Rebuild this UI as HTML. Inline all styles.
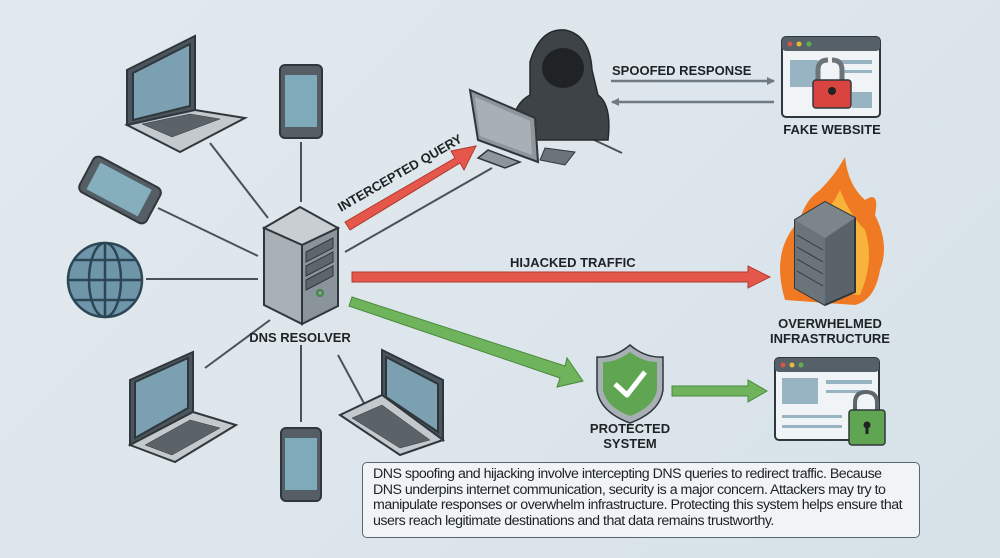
<!DOCTYPE html>
<html><head><meta charset="utf-8"><style>
html,body{margin:0;padding:0;width:1000px;height:558px;overflow:hidden}
body{background:linear-gradient(135deg,#e2e9ee 0%,#dde6ec 50%,#d6e1e8 100%);font-family:"Liberation Sans",sans-serif}
svg text{font-family:"Liberation Sans",sans-serif;font-weight:bold;fill:#1f2326}
.box{position:absolute;left:362px;top:462px;width:558px;height:76px;border:1.5px solid #5b6670;border-radius:5px;background:#f1f4f6;box-sizing:border-box;padding:4px 4px 0 10px;font-size:14.2px;line-height:15.5px;color:#1d2226;letter-spacing:-0.5px;white-space:nowrap}
</style></head><body>
<svg width="1000" height="558" style="position:absolute;left:0;top:0">
<defs>
<marker id="ag" markerWidth="8" markerHeight="8" refX="7" refY="4" orient="auto" markerUnits="userSpaceOnUse"><path d="M0,0 L8,4 L0,8 z" fill="#707a82"/></marker>
</defs>
<g stroke="#4a5157" stroke-width="2" fill="none">
<line x1="210" y1="143" x2="268" y2="218"/>
<line x1="301" y1="142" x2="301" y2="202"/>
<line x1="158" y1="208" x2="258" y2="256"/>
<line x1="146" y1="279" x2="258" y2="279"/>
<line x1="270" y1="320" x2="205" y2="368"/>
<line x1="301" y1="345" x2="301" y2="422"/>
<line x1="338" y1="355" x2="373" y2="420"/>
<line x1="345" y1="252" x2="492" y2="168"/>
<line x1="590" y1="138" x2="622" y2="153"/>
</g>
<g stroke="#30373c" stroke-width="2">
<polygon points="127,70 195,36 195,110 127,125" fill="#4a555d"/>
<polygon points="133,73 190,44 190,106 133,120" fill="#7aa0b1"/>
<polygon points="127,125 195,110 245,118 180,152" fill="#c4c9cd"/>
<polygon points="142,124 190,114 220,119 172,137" fill="#5b6369" stroke-width="0.5"/>
</g>
<rect x="280" y="65" width="42" height="73" rx="5" fill="#555e64" stroke="#30373c" stroke-width="2"/>
<rect x="285" y="75" width="32" height="52" fill="#7eaab9"/>
<g transform="rotate(28 120 190)"><rect x="82" y="170" width="76" height="40" rx="6" fill="#555e64" stroke="#30373c" stroke-width="2"/><rect x="90" y="175" width="58" height="30" fill="#86afbd"/></g>
<g stroke="#2c4656" stroke-width="2.5" fill="none">
<circle cx="105" cy="280" r="37" fill="#6f95a8"/>
<ellipse cx="105" cy="280" rx="16" ry="37"/>
<line x1="105" y1="243" x2="105" y2="317"/>
<line x1="68" y1="280" x2="142" y2="280"/>
<path d="M74,260 H136 M74,300 H136"/>
</g>
<g stroke="#30373c" stroke-width="2">
<polygon points="264,228 300,207 338,228 302,245" fill="#c9ced2"/>
<polygon points="264,228 302,245 302,324 264,305" fill="#a9b0b6"/>
<polygon points="302,245 338,228 338,306 302,324" fill="#8b949b"/>
<polygon points="306,252 333,238 333,248 306,262" fill="#5d666c" stroke-width="1"/>
<polygon points="306,266 333,252 333,262 306,276" fill="#5d666c" stroke-width="1"/>
<polygon points="306,280 333,266 333,276 306,290" fill="#5d666c" stroke-width="1"/>
<circle cx="320" cy="293" r="3" fill="none" stroke="#3c8a3c"/>
</g>
<text x="300" y="342" font-size="13" text-anchor="middle">DNS RESOLVER</text>
<g stroke="#30373c" stroke-width="2">
<polygon points="130,380 193,352 193,412 130,445" fill="#4a555d"/>
<polygon points="135,382 188,358 188,408 135,438" fill="#7aa0b1"/>
<polygon points="130,445 193,412 236,425 175,462" fill="#c4c9cd"/>
<polygon points="145,445 190,420 220,428 172,455" fill="#5b6369" stroke-width="0.5"/>
</g>
<rect x="281" y="428" width="40" height="73" rx="5" fill="#555e64" stroke="#30373c" stroke-width="2"/>
<rect x="285" y="438" width="32" height="52" fill="#7eaab9"/>
<g stroke="#30373c" stroke-width="2">
<polygon points="382,350 443,380 443,440 382,395" fill="#4a555d"/>
<polygon points="386,357 438,384 438,432 386,397" fill="#7aa0b1"/>
<polygon points="340,415 382,395 443,440 400,455" fill="#c4c9cd"/>
<polygon points="352,418 382,405 430,440 400,448" fill="#5b6369" stroke-width="0.5"/>
</g>
<polygon points="345,222 455,158 451,151 476,146 464,170 460,163 350,230" fill="#e5574a" stroke="#b03a30" stroke-width="1"/>
<text x="0" y="0" font-size="13" transform="translate(341,212) rotate(-30)">INTERCEPTED QUERY</text>
<path d="M530,62 Q540,28 565,30 Q590,35 592,70 L598,95 Q612,105 608,140 L512,140 Q510,105 530,95z" fill="#3e4347" stroke="#25292c" stroke-width="1.5"/>
<ellipse cx="563" cy="68" rx="21" ry="20" fill="#1f2326"/>
<polygon points="470,90 535,118 538,162 478,140" fill="#8e969c" stroke="#30373c" stroke-width="2"/>
<polygon points="475,97 530,121 532,155 480,136" fill="#a9b0b5"/>
<polygon points="488,150 520,162 505,168 478,158" fill="#8e969c" stroke="#30373c" stroke-width="1.5"/>
<polygon points="545,148 575,152 565,165 540,160" fill="#6c747a" stroke="#30373c" stroke-width="1"/>
<text x="612" y="75" font-size="13">SPOOFED RESPONSE</text>
<line x1="611" y1="81" x2="774" y2="81" stroke="#707a82" stroke-width="2.5" marker-end="url(#ag)"/>
<line x1="774" y1="102" x2="612" y2="102" stroke="#707a82" stroke-width="2.5" marker-end="url(#ag)"/>
<rect x="782" y="37" width="98" height="80" rx="4" fill="#f1f4f6" stroke="#30373c" stroke-width="2"/>
<rect x="782" y="37" width="98" height="14" rx="4" fill="#566068"/>
<circle cx="790" cy="44" r="2.5" fill="#d9534f"/><circle cx="799" cy="44" r="2.5" fill="#e6b93b"/><circle cx="809" cy="44" r="2.5" fill="#5fae4f"/>
<rect x="790" y="60" width="28" height="27" fill="#98b4c3"/>
<rect x="852" y="92" width="20" height="16" fill="#98b4c3"/>
<rect x="840" y="60" width="32" height="4" fill="#98b4c3"/><rect x="840" y="70" width="32" height="3" fill="#98b4c3"/>
<path d="M818,82 V70 Q818,60 828,60 M832,60 Q842,60 842,70 V82" stroke="#6d757b" stroke-width="5" fill="none"/>
<rect x="813" y="80" width="38" height="28" rx="3" fill="#d9443e" stroke="#30373c" stroke-width="1.5"/>
<circle cx="832" cy="91" r="4" fill="#222"/>
<text x="832" y="134" font-size="13" text-anchor="middle">FAKE WEBSITE</text>
<text x="510" y="267" font-size="13">HIJACKED TRAFFIC</text>
<polygon points="352,272 748,272 748,266 770,277 748,288 748,282 352,282" fill="#e5574a" stroke="#b03a30" stroke-width="1"/>
<path d="M785,300 Q770,250 800,220 Q805,200 820,190 Q835,175 845,157 Q848,185 865,200 Q880,190 875,215 Q890,245 880,270 Q875,300 855,305 z" fill="#f07a24"/>
<path d="M795,290 Q790,250 815,225 Q830,210 840,190 Q850,215 865,230 Q875,260 860,295 z" fill="#f7b33a"/>
<polygon points="795,220 825,202 855,218 855,292 825,305 795,288" fill="#5a6369" stroke="#30373c" stroke-width="2"/>
<polygon points="795,220 825,238 825,305 795,288" fill="#6b747a"/>
<polygon points="795,220 825,202 855,218 825,238" fill="#7c858b"/>
<g stroke="#30373c" stroke-width="1"><line x1="797" y1="235" x2="823" y2="250"/><line x1="797" y1="247" x2="823" y2="262"/><line x1="797" y1="259" x2="823" y2="274"/><line x1="797" y1="271" x2="823" y2="286"/></g>
<text x="830" y="328" font-size="13" text-anchor="middle">OVERWHELMED</text>
<text x="830" y="343" font-size="13" text-anchor="middle">INFRASTRUCTURE</text>
<polygon points="352,297 565,366 567,358 583,381 557,387 560,378 349,306" fill="#6fb35c" stroke="#4a8a3c" stroke-width="1"/>
<path d="M630,345 Q645,358 663,357 V390 Q660,412 630,423 Q600,412 597,390 V357 Q615,358 630,345z" fill="#a8b0b6" stroke="#30373c" stroke-width="1.5"/>
<path d="M630,352 Q643,362 657,362 V390 Q654,407 630,416 Q606,407 603,390 V362 Q617,362 630,352z" fill="#5fa552"/>
<path d="M615,384 L627,395 L645,372" stroke="#fff" stroke-width="5" fill="none" stroke-linejoin="round"/>
<text x="630" y="433" font-size="13" text-anchor="middle">PROTECTED</text>
<text x="630" y="448" font-size="13" text-anchor="middle">SYSTEM</text>
<polygon points="672,386 748,386 748,380 767,391 748,402 748,396 672,396" fill="#6fb35c" stroke="#4a8a3c" stroke-width="1"/>
<rect x="775" y="358" width="104" height="82" rx="4" fill="#f1f4f6" stroke="#30373c" stroke-width="2"/>
<rect x="775" y="358" width="104" height="14" rx="4" fill="#566068"/>
<circle cx="783" cy="365" r="2.5" fill="#d9534f"/><circle cx="792" cy="365" r="2.5" fill="#e6b93b"/><circle cx="801" cy="365" r="2.5" fill="#5fae4f"/>
<rect x="782" y="378" width="36" height="26" fill="#98b4c3"/>
<rect x="826" y="380" width="46" height="4" fill="#98b4c3"/><rect x="826" y="390" width="40" height="3" fill="#98b4c3"/>
<rect x="782" y="415" width="60" height="3" fill="#98b4c3"/><rect x="782" y="425" width="60" height="3" fill="#98b4c3"/>
<path d="M855,412 V403 Q855,392 866,392 Q877,392 877,403 V412" stroke="#5d666c" stroke-width="4" fill="none"/>
<rect x="849" y="410" width="36" height="35" rx="3" fill="#5fa552" stroke="#30373c" stroke-width="1.5"/>
<circle cx="867" cy="425" r="3.5" fill="#222"/><rect x="865.5" y="426" width="3" height="8" fill="#222"/>
</svg>
<div class="box">DNS spoofing and hijacking involve intercepting DNS queries to redirect traffic. Because<br>DNS underpins internet communication, security is a major concern. Attackers may try to<br>manipulate responses or overwhelm infrastructure. Protecting this system helps ensure that<br>users reach legitimate destinations and that data remains trustworthy.</div>
</body></html>
